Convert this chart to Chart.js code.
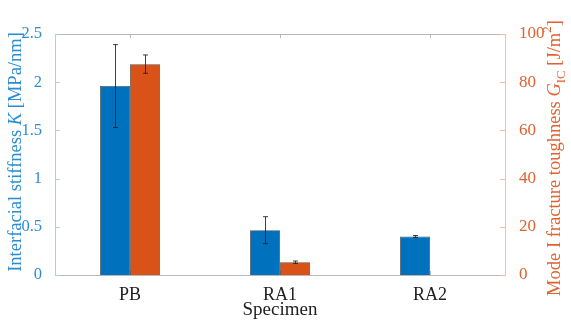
<!DOCTYPE html>
<html>
<head>
<meta charset="utf-8">
<script src="https://cdn.jsdelivr.net/npm/chart.js@4/dist/chart.umd.min.js"></script>
<style>
  html, body { margin: 0; padding: 0; background: #fff; }
  #wrap { width: 571px; height: 320px; position: relative; }
</style>
</head>
<body>
<div id="wrap"><canvas id="chart"></canvas></div>
<script>
// data
const categories = ['PB', 'RA1', 'RA2'];
const stiffness = [1.96, 0.465, 0.40];
const stiffnessErr = [0.43, 0.14, 0.01];
const toughness = [87.5, 5.3, 0];
const toughnessErr = [3.8, 0.5, 0];
const leftTicks = [0, 0.5, 1, 1.5, 2, 2.5];
const rightTicks = [0, 20, 40, 60, 80, 100];

const blue = '#0072BD';
const orange = '#D95319';
const blueText = '#2b8cd2';
const orangeText = '#e0622f';
const serif = '"Liberation Serif", "DejaVu Serif", serif';

// draw the axes box and inward ticks (matlab style)
const axesBox = {
    id: 'axesBox',
    beforeDatasetsDraw(chart) {
        const ctx = chart.ctx;
        const a = chart.chartArea;
        const x = chart.scales.x, y = chart.scales.y, y1 = chart.scales.y1;
        ctx.save();
        ctx.lineWidth = 1;
        ctx.strokeStyle = '#b8b8b8';
        ctx.beginPath();
        ctx.moveTo(a.left, a.top + 0.5); ctx.lineTo(a.right, a.top + 0.5);
        ctx.moveTo(a.left, a.bottom + 0.5); ctx.lineTo(a.right, a.bottom + 0.5);
        categories.forEach((c, i) => {
            const px = Math.round(x.getPixelForValue(i)) + 0.5;
            ctx.moveTo(px, a.top); ctx.lineTo(px, a.top + 4);
            ctx.moveTo(px, a.bottom); ctx.lineTo(px, a.bottom - 4);
        });
        ctx.stroke();

        ctx.strokeStyle = '#a9d0ee';
        ctx.beginPath();
        ctx.moveTo(a.left + 0.5, a.top); ctx.lineTo(a.left + 0.5, a.bottom + 1);
        leftTicks.forEach(v => {
            const py = Math.round(y.getPixelForValue(v)) + 0.5;
            ctx.moveTo(a.left, py); ctx.lineTo(a.left + 5, py);
        });
        ctx.stroke();

        ctx.strokeStyle = '#f5bfa6';
        ctx.beginPath();
        ctx.moveTo(a.right + 0.5, a.top); ctx.lineTo(a.right + 0.5, a.bottom + 1);
        rightTicks.forEach(v => {
            const py = Math.round(y1.getPixelForValue(v)) + 0.5;
            ctx.moveTo(a.right, py); ctx.lineTo(a.right - 5, py);
        });
        ctx.stroke();
        ctx.restore();
    },
    afterDatasetsDraw(chart) {
        // error bars
        const ctx = chart.ctx;
        const sets = [
            { meta: chart.getDatasetMeta(0), vals: stiffness, errs: stiffnessErr, scale: chart.scales.y },
            { meta: chart.getDatasetMeta(1), vals: toughness, errs: toughnessErr, scale: chart.scales.y1 }
        ];
        ctx.save();
        ctx.strokeStyle = 'rgba(30,30,30,0.85)';
        ctx.lineWidth = 1;
        sets.forEach(s => {
            s.meta.data.forEach((bar, i) => {
                if (!s.vals[i]) return;
                const px = Math.round(bar.x) + 0.5;
                const top = s.scale.getPixelForValue(s.vals[i] + s.errs[i]);
                const bot = s.scale.getPixelForValue(s.vals[i] - s.errs[i]);
                ctx.beginPath();
                ctx.moveTo(px, top); ctx.lineTo(px, bot);
                ctx.moveTo(px - 2.5, top); ctx.lineTo(px + 2.5, top);
                ctx.moveTo(px - 2.5, bot); ctx.lineTo(px + 2.5, bot);
                ctx.stroke();
            });
        });
        ctx.restore();
    },
    afterDraw(chart) {
        const ctx = chart.ctx;
        const a = chart.chartArea;
        const size = 18.5;
        ctx.save();
        ctx.textBaseline = 'middle';

        // x axis title
        ctx.font = '19px ' + serif;
        ctx.fillStyle = '#222';
        ctx.textAlign = 'center';
        ctx.fillText('Specimen', (a.left + a.right) / 2, 310);
        ctx.textAlign = 'left';
        ctx.textBaseline = 'alphabetic';

        // left title, rotated, baseline on the right side
        const leftParts = [
            { t: 'Interfacial stiffness ', f: size + 'px ' + serif, dy: 0 },
            { t: 'K', f: 'italic ' + size + 'px ' + serif, dy: 0 },
            { t: ' [MPa/nm]', f: size + 'px ' + serif, dy: 0 }
        ];
        drawRotated(ctx, leftParts, 21, 152, blueText);

        const rightParts = [
            { t: 'Mode I fracture toughness ', f: size + 'px ' + serif, dy: 0 },
            { t: 'G', f: 'italic ' + size + 'px ' + serif, dy: 0 },
            { t: 'IC', f: (size * 0.7) + 'px ' + serif, dy: 5 },
            { t: ' [J/m', f: size + 'px ' + serif, dy: 0 },
            { t: '2', f: (size * 0.7) + 'px ' + serif, dy: -9 },
            { t: ']', f: size + 'px ' + serif, dy: 0 }
        ];
        drawRotated(ctx, rightParts, 560, 158, orangeText);
        ctx.restore();
    }
};

function drawRotated(ctx, parts, cx, cy, color) {
    let total = 0;
    parts.forEach(p => { ctx.font = p.f; p.w = ctx.measureText(p.t).width; total += p.w; });
    ctx.save();
    ctx.translate(cx, cy);
    ctx.rotate(-Math.PI / 2);
    ctx.fillStyle = color;
    let x = -total / 2;
    parts.forEach(p => {
        ctx.font = p.f;
        ctx.fillText(p.t, x, p.dy);
        x += p.w;
    });
    ctx.restore();
}

new Chart(document.getElementById('chart'), {
    type: 'bar',
    data: {
        labels: categories,
        datasets: [{
            label: 'K',
            data: stiffness,
            yAxisID: 'y',
            backgroundColor: blue,
            borderColor: 'rgba(40,40,40,0.8)',
            borderWidth: 0.8,
            categoryPercentage: 0.4,
            barPercentage: 1.0
        }, {
            label: 'GIC',
            data: toughness,
            yAxisID: 'y1',
            backgroundColor: orange,
            borderColor: 'rgba(40,40,40,0.8)',
            borderWidth: 0.8,
            categoryPercentage: 0.4,
            barPercentage: 1.0
        }]
    },
    options: {
        responsive: true,
        maintainAspectRatio: false,
        animation: false,
        layout: { padding: { top: 34, left: 0, right: 0, bottom: 0 } },
        plugins: {
            legend: { display: false },
            tooltip: { enabled: false }
        },
        scales: {
            x: {
                grid: { display: false },
                border: { display: false },
                ticks: { color: '#222', font: { family: serif, size: 18 }, padding: 1 },
                afterFit: s => { s.height = 45; }
            },
            y: {
                position: 'left',
                min: 0,
                max: 2.5,
                grid: { display: false },
                border: { display: false },
                ticks: {
                    stepSize: 0.5,
                    color: blueText,
                    padding: 5,
                    font: { family: serif, size: 16.5 },
                    callback: v => String(v)
                },
                afterFit: s => { s.width = 55; }
            },
            y1: {
                position: 'right',
                min: 0,
                max: 100,
                grid: { display: false },
                border: { display: false },
                ticks: {
                    stepSize: 20,
                    color: orangeText,
                    padding: 6,
                    font: { family: serif, size: 17 }
                },
                afterFit: s => { s.width = 66; }
            }
        }
    },
    plugins: [axesBox]
});
</script>
</body>
</html>
